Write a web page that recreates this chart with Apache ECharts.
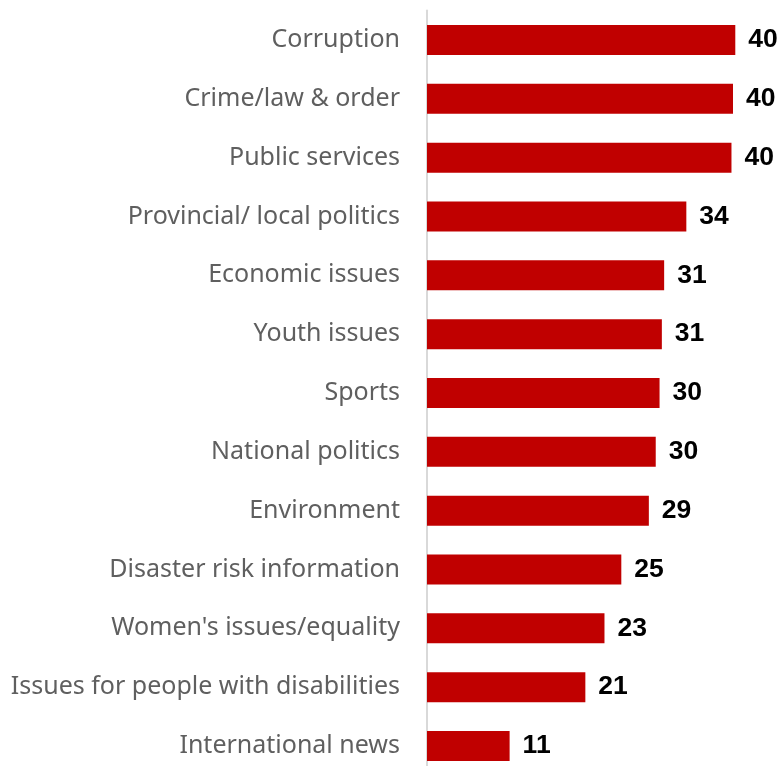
<!DOCTYPE html>
<html>
<head>
<meta charset="utf-8">
<script src="https://cdn.jsdelivr.net/npm/echarts@6/dist/echarts.min.js"></script>
<style>
html,body{margin:0;padding:0;background:#fff;overflow:hidden;}
#chart{width:781px;height:780px;}
</style>
</head>
<body>
<div id="chart"></div>
<script>
var categories = [
  "Corruption",
  "Crime/law & order",
  "Public services",
  "Provincial/ local politics",
  "Economic issues",
  "Youth issues",
  "Sports",
  "National politics",
  "Environment",
  "Disaster risk information",
  "Women's issues/equality",
  "Issues for people with disabilities",
  "International news"
];
var values = [40.3, 40.0, 39.8, 33.9, 31.0, 30.7, 30.4, 29.9, 29.0, 25.4, 23.2, 20.7, 10.8];

var chart = echarts.init(document.getElementById('chart'), null, {renderer: 'canvas'});
chart.setOption({
  animation: false,
  backgroundColor: '#ffffff',
  grid: {left: 427, top: 10.6, width: 344.25, height: 764.8, containLabel: false},
  xAxis: {
    type: 'value', min: 0, max: 45,
    show: false
  },
  yAxis: {
    type: 'category',
    data: categories,
    inverse: true,
    axisLine: {show: true, lineStyle: {color: '#d9d9d9', width: 2}},
    axisTick: {show: false},
    splitLine: {show: false},
    axisLabel: {
      margin: 27,
      color: '#5f5f5f',
      fontFamily: 'Noto Sans',
      fontSize: 25
    }
  },
  series: [{
    type: 'bar',
    data: values,
    barWidth: 30,
    itemStyle: {color: '#c00000'},
    label: {
      show: true,
      position: 'right',
      distance: 13,
      color: '#000000',
      fontFamily: 'Liberation Sans',
      fontWeight: 'bold',
      fontSize: 26.5,
      formatter: function (p) { return Math.round(p.value); }
    }
  }]
});
</script>
</body>
</html>
